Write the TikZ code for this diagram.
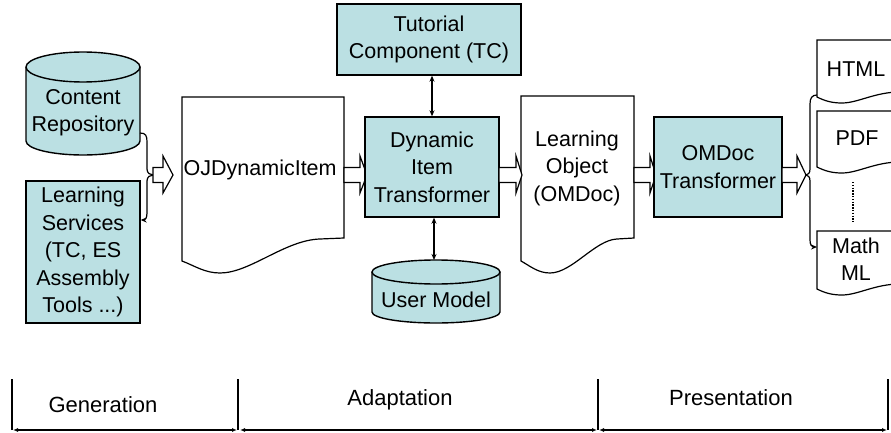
\documentclass[tikz,border=0pt]{standalone}
\usepackage{fontspec}
\setmainfont{Liberation Sans}
\usetikzlibrary{arrows.meta,calc}
\definecolor{boxfill}{RGB}{187,224,227}
\newcommand\blockarr[3]{%
  \draw[line width=1.2pt, fill=white] (#1,-167.5) -- (#2,-167.5) -- (#2,-156) -- (#3,-175) -- (#2,-193) -- (#2,-182.5) -- (#1,-182.5) -- cycle;}
\begin{document}
\begin{tikzpicture}[x=1pt,y=1pt,
  lbl/.style={font=\fontsize{21.5}{27.5}\selectfont, align=center, inner sep=0pt},
  boxn/.style={draw, line width=1.4pt, fill=boxfill, inner sep=0pt, lbl},
  ghost/.style={inner sep=0pt, outer sep=0pt},
  docline/.style={draw, line width=1.2pt, fill=white},
  tip/.style={-{Stealth[length=6pt,width=5pt]}},
  dbl/.style={line width=1.2pt, {Stealth[length=6pt,width=5pt]}-{Stealth[length=6pt,width=5pt]}},
  bar/.style={line width=1.3pt},
  span/.style={line width=1.6pt, {Latex[length=5pt,width=4pt]}-{Latex[length=5pt,width=4pt]}},
  tl/.style={font=\fontsize{22}{26}\selectfont, inner sep=0pt}
]
\useasboundingbox (0,0) rectangle (891,-433);

% Content Repository cylinder
\fill[boxfill] (26,-67) rectangle (140,-141);
\fill[boxfill] (83,-141) ellipse [x radius=57, y radius=14];
\draw[line width=1.4pt] (26,-67) -- (26,-141) arc[start angle=180,end angle=360,x radius=57,y radius=14] -- (140,-67);
\draw[line width=1.4pt, fill=boxfill] (83,-67) ellipse [x radius=57, y radius=15];
\node[ghost, minimum width=114pt, minimum height=103pt] (crbox) at (83,-103.5) {};
\node[lbl] (cr) at (83,-112.5) {Content\\Repository};

% Learning Services
\node[boxn, minimum width=114pt, minimum height=142pt] (ls) at (83,-252) {Learning\\Services\\(TC, ES\\Assembly\\Tools ...)};

% left bracket
\coordinate (brL) at (153,-175);
\draw[line width=1.2pt, tip] ([yshift=-29.5pt]crbox.east) .. controls (146,-133) and (147,-136) .. (147,-142) -- (147,-169) .. controls (147,-173) and (150,-175) .. (brL) .. controls (150,-175) and (147,-177) .. (147,-181) -- (147,-213) .. controls (147,-218) and (145,-220) .. ([yshift=32pt]ls.east);

% OJDynamicItem document
\draw[docline] (182,-97) -- (344,-97) -- (344,-238) -- (320,-239) .. controls (285,-240) and (250,-273) .. (220,-273) .. controls (205,-273) and (195,-266) .. (182,-261) -- cycle;
\node[ghost, minimum width=162pt, minimum height=141pt] (oj) at (263,-167.5) {};
\node[lbl, anchor=west] (ojt) at (183.5,-170) {OJDynamicItem};

% block arrows
\blockarr{153}{163}{173}
\blockarr{344}{360}{367}

% Tutorial Component
\node[boxn, minimum width=184pt, minimum height=71pt] (tc) at (429,-39.5) {Tutorial\\Component (TC)};
% Dynamic Item Transformer
\node[boxn, minimum width=134pt, minimum height=100pt] (dit) at (432,-167) {Dynamic\\Item\\Transformer};

% User Model cylinder
\fill[boxfill] (372,-272) rectangle (500,-312);
\fill[boxfill] (436,-312) ellipse [x radius=64, y radius=11];
\draw[line width=1.4pt] (372,-272) -- (372,-312) arc[start angle=180,end angle=360,x radius=64,y radius=11] -- (500,-272);
\draw[line width=1.4pt, fill=boxfill] (436,-272) ellipse [x radius=64, y radius=12];
\node[ghost, minimum width=128pt, minimum height=63pt] (um) at (436,-291.5) {};
\node[lbl] (umt) at (436,-300) {User Model};

\draw[dbl] ([xshift=3pt]tc.south) -- ([xshift=3pt]tc.south |- dit.north);
\draw[dbl] ([xshift=2pt]dit.south) -- ([xshift=2pt]dit.south |- um.north);

% Learning Object document
\draw[docline] (521,-96) -- (634,-96) -- (634,-238) -- (617,-239) .. controls (595,-240) and (572,-273) .. (550,-273) .. controls (538,-273) and (530,-266) .. (521,-261) -- cycle;
\node[lbl] (lo) at (577,-168) {Learning\\Object\\(OMDoc)};

\blockarr{499}{516}{522}
\blockarr{634}{650}{656}

% OMDoc Transformer
\node[boxn, minimum width=128pt, minimum height=100pt] (omt) at (718,-167) {OMDoc\\Transformer};

\blockarr{782}{797}{806}

% output documents
\begin{scope}
\clip (0,0) rectangle (891,-433);
\draw[docline] (900,-40) -- (817,-40) -- (817,-97) .. controls (825,-101) and (832,-103) .. (842,-103) .. controls (858,-103) and (875,-92) .. (900,-92);
\draw[docline] (900,-111) -- (817,-111) -- (817,-167) .. controls (825,-171) and (832,-173) .. (842,-173) .. controls (858,-173) and (875,-162) .. (900,-162);
\draw[docline] (900,-231) -- (817,-231) -- (817,-289) .. controls (825,-293) and (832,-295) .. (842,-295) .. controls (858,-295) and (875,-284) .. (900,-284);
\end{scope}
\node[lbl] (html) at (856,-69) {HTML};
\node[lbl] (pdf) at (857,-138) {PDF};
\node[lbl] (mml) at (856,-259) {Math\\ML};
\draw[line width=1.6pt, dash pattern=on 1.4pt off 1.4pt] (853,-182) -- (853,-222);

% right bracket
\coordinate (brR) at (806,-175);
\coordinate (htmlL) at (817,-95);
\coordinate (mmlL) at (817,-247);
\draw[line width=1.2pt, tip] (htmlL) .. controls (812,-95) and (810,-98) .. (810,-104) -- (810,-169) .. controls (810,-173) and (808,-175) .. (brR) .. controls (808,-175) and (810,-177) .. (810,-181) -- (810,-240) .. controls (810,-245) and (812,-247) .. (mmlL);

% timeline
\coordinate (t0) at (12,-430);
\coordinate (t1) at (238,-430);
\coordinate (t2) at (598,-430);
\coordinate (t3) at (888,-430);
\foreach \t in {t0,t1,t2,t3} \draw[bar] (\t) -- ++(0,51);
\draw[span] ([xshift=1pt]t0) -- ([xshift=-1pt]t1);
\draw[span] ([xshift=2pt]t1) -- ([xshift=-1pt]t2);
\draw[span] ([xshift=1pt]t2) -- ([xshift=-1pt]t3);
\node[tl] (gen) at (103,-405) {Generation};
\node[tl] (ada) at (400,-400) {Adaptation};
\node[tl] (pre) at (731,-398) {Presentation};
\end{tikzpicture}
\end{document}
